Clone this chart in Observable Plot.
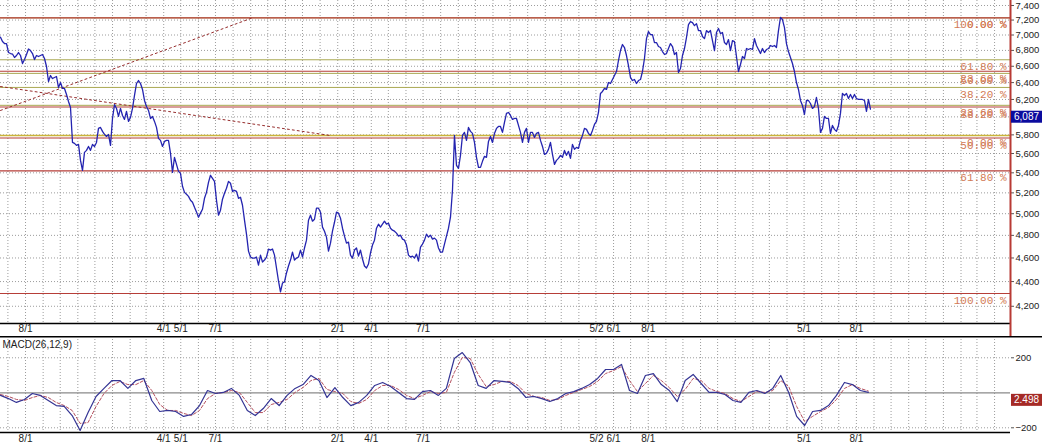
<!DOCTYPE html>
<html><head><meta charset="utf-8">
<script src="https://cdn.jsdelivr.net/npm/d3@7"></script>
<script src="https://cdn.jsdelivr.net/npm/@observablehq/plot@0.6"></script>
<style>
html,body{margin:0;padding:0;background:#fff;}
#chart{width:1042px;height:446px;overflow:hidden;background:#fff;}
#chart svg{display:block;max-width:none;}
</style></head><body><div id="chart"></div>
<script>
// ---------- data ----------
const startDate = "2008-06-18";      // first close; one close every stepHours after that
const stepHours = 84.4;
const xDomain = ["2008-06-18", "2013-04-29"];
const price = [
6971,6914,6888,6888,6773,6760,6754,6710,6735,6773,6735,6634,6684,6748,6818,6798,6760,6684,6735,6722,
6735,6748,6697,6597,6413,6486,6449,6462,6474,6341,6401,6330,6330,6259,6176,6107,5718,5708,5686,5697,
5528,5425,5612,5633,5675,5633,5697,5675,5718,5871,5882,5838,5805,5783,5805,5686,5982,6141,6096,6005,
6096,6016,5971,6062,5949,5994,6096,6247,6389,6425,6389,6318,6188,6119,6073,5982,6005,5949,5882,5762,
5740,5675,5729,5740,5740,5602,5405,5560,5487,5415,5395,5265,5205,5186,5166,5128,5109,5061,5017,4967,
5005,5042,5147,5205,5304,5375,5344,5314,5128,4986,5033,5138,5196,5245,5314,5295,5215,5225,5215,5147,
5157,5080,4939,4811,4660,4608,4599,4599,4608,4539,4625,4565,4582,4608,4678,4669,4678,4625,4514,4405,
4315,4388,4397,4472,4531,4582,4651,4582,4599,4608,4669,4608,4687,4757,4939,4986,4930,4948,5052,5052,
5014,4875,4838,4784,4660,4730,4838,4920,5014,5005,4958,4865,4793,4730,4739,4625,4599,4669,4687,4616,
4669,4591,4531,4514,4548,4643,4713,4757,4865,4902,4875,4902,4930,4902,4911,4865,4847,4838,4820,4793,
4802,4766,4757,4713,4625,4608,4616,4599,4634,4573,4695,4722,4757,4811,4784,4802,4766,4775,4757,4687,
4651,4651,4722,4793,4865,4967,5225,5794,5477,5446,5581,5794,5827,5740,5882,5838,5816,5718,5560,5456,
5456,5518,5570,5560,5729,5783,5718,5816,5871,5893,5893,5827,5938,6039,6050,6016,5971,5982,5982,5904,
5827,5718,5827,5871,5718,5827,5827,5772,5816,5827,5740,5675,5591,5602,5644,5718,5591,5487,5528,5549,
5581,5560,5633,5581,5623,5549,5697,5644,5665,5654,5740,5794,5871,5860,5816,5794,5849,5915,5949,6050,
6271,6294,6330,6318,6401,6389,6437,6486,6535,6672,6798,6876,6837,6735,6609,6462,6425,6437,6389,6425,
6437,6535,6697,6953,7046,7006,7006,6901,6901,6850,6837,6785,6748,6760,6824,6888,6850,6748,6773,6523,
6572,6735,6824,6967,7139,7179,7166,7125,7152,7059,7059,6980,6953,7059,7033,7059,6927,6798,7033,7086,
7019,7033,6901,6876,6940,6798,6927,6914,6722,6535,6622,6722,6697,6824,6811,6824,6811,6953,6863,6811,
6760,6824,6773,6811,6824,6863,6850,6863,6837,7059,7235,7207,7099,6888,6785,6710,6634,6535,6401,6318,
6188,6130,6027,6188,6188,6153,6096,6119,6223,6096,5827,5871,6005,5982,5982,5816,5904,5860,5838,5904,
6039,6271,6247,6271,6211,6259,6211,6259,6211,6200,6200,6200,6188,6062,6200,6087
];
const macdBiweekly = [
-15,-33,-55,-38,-4,-15,-44,-73,-78,-130,
-215,-113,-21,25,70,70,25,70,82,-44,
-107,-101,-107,-135,-124,-73,13,-4,2,25,
-15,-101,-130,-90,-33,-73,-15,25,47,99,
70,-27,30,-27,-73,-55,-15,42,59,36,
2,-33,-38,7,13,-15,25,196,230,173,
42,25,70,65,59,25,-27,-21,-33,-50,
-33,-4,7,25,47,82,133,133,162,13,
-4,99,110,47,13,-50,70,105,53,2,
2,-10,-44,-55,2,13,-4,25,99,2,
-135,-187,-107,-101,-73,-15,59,47,13,2.498
];
const signalBiweekly = [
-10,-21,-38,-44,-27,-15,-27,-55,-73,-101,
-175,-170,-78,-4,42,65,47,47,70,13,
-67,-101,-101,-118,-130,-101,-33,-4,2,13,
2,-55,-113,-113,-67,-55,-38,2,30,70,
82,19,7,-4,-50,-61,-38,13,42,42,
19,-15,-33,-15,7,-4,2,116,202,196,
105,36,47,65,65,42,-4,-21,-27,-44,
-38,-15,2,19,36,65,110,127,150,70,
7,53,99,70,30,-21,19,82,70,25,
7,-4,-33,-50,-21,7,2,13,70,36,
-78,-164,-135,-107,-84,-38,25,47,25,10
];
const priceTicks = [4200,4400,4600,4800,5000,5200,5400,5600,5800,6000,6200,6400,6600,6800,7000,7200,7400];
const priceDomain = [4066, 7470];
const macdTicks = [-200, 200];
const macdDomain = [-226.9, 321.7];
const dateLabels = ["2008-08-01","2009-04-01","2009-05-01","2009-07-01","2010-02-01","2010-04-01",
  "2010-07-01","2011-05-02","2011-06-01","2011-08-01","2012-05-01","2012-08-01"];
const fibLabels = ["100.00 %","61.80 %","50.00 %","38.20 %","23.60 %","0.00 %"];
const fibALevels = [7230, 6681, 6512, 6342, 6132, 5793];
const fibBLevels = [4302, 5420, 5766, 6112, 6539, 7230];
const trend1 = [["2008-06-18", 6073], ["2009-09-04", 7230]];
const trend2 = [["2008-06-18", 6353], ["2010-01-19", 5793]];
const lastPrice = 6087;
const lastMacd = 2.498;
const macdName = "MACD(26,12,9)";

// ---------- build ----------
const HOUR = 36e5, DAY = 864e5;
const d0 = new Date(startDate);
const priceRows = price.map((v, i) => ({date: new Date(+d0 + i * stepHours * HOUR), v}));
const macdRows = macdBiweekly.map((v, i) => ({date: new Date(+d0 + i * 14 * DAY), macd: v, signal: signalBiweekly[i]}));
const xDom = xDomain.map(d => new Date(d));
const months = d3.utcMonth.range(new Date("2008-07-01"), xDom[1]);
const labelDates = dateLabels.map(d => new Date(d));
const fmtDate = d => `${d.getUTCMonth() + 1}/${d.getUTCDate()}`;
const fibA = fibALevels.map((v, i) => ({v, label: fibLabels[i]}));
const fibB = fibBLevels.map((v, i) => ({v, label: fibLabels[i]}));
const tl = arr => arr.map(([d, v]) => ({date: new Date(d), v}));

const FONT = "Liberation Sans, Arial, sans-serif";
const MONO = "Liberation Mono, DejaVu Sans Mono, monospace";
const grid = {stroke: "#9c9c9c", strokeOpacity: 1, strokeDasharray: "1,2", strokeWidth: 1};

const main = Plot.plot({
  width: 1042, height: 336,
  marginTop: 0, marginBottom: 13, marginLeft: 0, marginRight: 32,
  x: {type: "utc", domain: xDom, label: null},
  y: {type: "log", domain: priceDomain, label: null},
  style: {fontFamily: FONT, fontSize: "10px", color: "#222", background: "#fff"},
  marks: [
    Plot.ruleX(months, grid),
    Plot.ruleY(priceTicks, grid),
    Plot.ruleY(fibA, {y: "v", stroke: "#aaa852", strokeWidth: 1}),
    Plot.ruleY([fibALevels[5]], {stroke: "#cbb43a", strokeWidth: 1.6}),
    Plot.ruleY(fibB, {y: "v", stroke: "#b63e38", strokeWidth: 1.1}),
    Plot.text(fibA, {y: "v", text: "label", frameAnchor: "right", textAnchor: "end", dx: -4, dy: 7,
      fill: "#d27a55", fontFamily: MONO, fontSize: 11}),
    Plot.text(fibB, {y: "v", text: "label", frameAnchor: "right", textAnchor: "end", dx: -4, dy: 7,
      fill: "#d27a55", fontFamily: MONO, fontSize: 11}),
    Plot.line(tl(trend1), {x: "date", y: "v", stroke: "#962c2c", strokeWidth: 1, strokeDasharray: "2,3"}),
    Plot.line(tl(trend2), {x: "date", y: "v", stroke: "#962c2c", strokeWidth: 1, strokeDasharray: "2,3"}),
    Plot.line(priceRows, {x: "date", y: "v", stroke: "#2424b0", strokeWidth: 1.3}),
    Plot.ruleY([priceDomain[0]], {stroke: "#000", strokeWidth: 1.6}),
    Plot.axisY(priceTicks, {anchor: "right", label: null, tickSize: 3, tickPadding: 2, tickFormat: d3.format(","),
      fontSize: 9.5, stroke: "#555", fill: "#222"}),
    Plot.axisX(labelDates, {anchor: "bottom", label: null, tickSize: 0, tickPadding: 1, tickFormat: fmtDate, fill: "#222"})
  ]
});

const macd = Plot.plot({
  width: 1042, height: 110,
  marginTop: 0, marginBottom: 14, marginLeft: 0, marginRight: 32,
  x: {type: "utc", domain: xDom, label: null},
  y: {domain: macdDomain, label: null},
  style: {fontFamily: FONT, fontSize: "10px", color: "#222", background: "#fff"},
  marks: [
    Plot.ruleX(months, grid),
    Plot.ruleY(macdTicks, grid),
    Plot.ruleY([0], {stroke: "#8a8a8a", strokeWidth: 1.2}),
    Plot.line(macdRows, {x: "date", y: "signal", stroke: "#b4505e", strokeWidth: 1, strokeDasharray: "3,2"}),
    Plot.line(macdRows, {x: "date", y: "macd", stroke: "#343494", strokeWidth: 1.2}),
    Plot.ruleY([macdDomain[0]], {stroke: "#000", strokeWidth: 1.6}),
    Plot.text([macdName], {frameAnchor: "top-left", dx: 2, dy: 4, text: d => d, lineAnchor: "top",
      textAnchor: "start", fill: "#222", fontSize: 10}),
    Plot.axisY(macdTicks, {anchor: "right", label: null, tickSize: 3, tickPadding: 2, fontSize: 9.5, stroke: "#555", fill: "#222"}),
    Plot.axisX(labelDates, {anchor: "bottom", label: null, tickSize: 0, tickPadding: 2, tickFormat: fmtDate, fill: "#222"})
  ]
});

const root = document.getElementById("chart");
root.appendChild(main);
root.appendChild(macd);

// decorations: right border of the price panel, value boxes, panel separator
const ms = d3.select(main);
ms.append("line").attr("x1", 1010.5).attr("x2", 1010.5).attr("y1", 0).attr("y2", 336)
  .attr("stroke", "#b83a34").attr("stroke-width", 2);
const yp = main.scale("y").apply(lastPrice);
ms.append("rect").attr("x", 1011).attr("y", yp + 2).attr("width", 31).attr("height", 12).attr("fill", "#0b0b9e");
ms.append("text").attr("x", 1014).attr("y", yp + 8).attr("dy", "0.35em").attr("text-anchor", "start")
  .attr("fill", "#fff").attr("font-size", 10).attr("font-family", FONT).text(d3.format(",")(lastPrice));

const mm = d3.select(macd);
mm.append("line").attr("x1", 0).attr("x2", 1042).attr("y1", 0.8).attr("y2", 0.8)
  .attr("stroke", "#000").attr("stroke-width", 1.6);
const ym = macd.scale("y").apply(lastMacd);
mm.append("rect").attr("x", 1011).attr("y", ym + 2).attr("width", 31).attr("height", 12).attr("fill", "#a52a26");
mm.append("text").attr("x", 1014).attr("y", ym + 8).attr("dy", "0.35em").attr("text-anchor", "start")
  .attr("fill", "#fff").attr("font-size", 10).attr("font-family", FONT).text(lastMacd.toFixed(3));
</script></body></html>
